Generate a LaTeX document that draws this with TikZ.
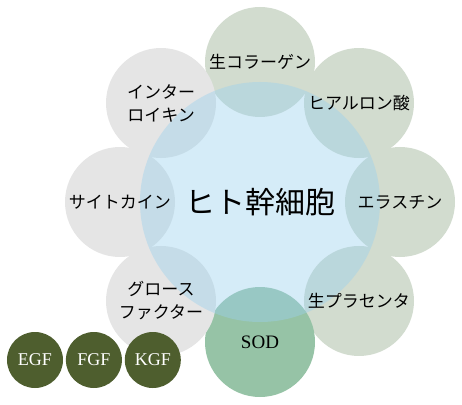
\documentclass[tikz,border=0pt]{standalone}
\usepackage{fontspec}
\setmainfont{Liberation Serif}
\newfontfamily\jp{Noto Sans CJK JP}
\usepackage{xcolor}
\usepackage{tikz}
\usetikzlibrary{positioning}

\definecolor{petalgrey}{HTML}{E5E5E5}
\definecolor{petalsage}{HTML}{D2DCCF}
\definecolor{sodgreen}{HTML}{96C3A6}
\definecolor{coreblue}{RGB}{155,209,238}
\definecolor{olive}{HTML}{4E5E2E}

\pgfdeclarelayer{back}
\pgfdeclarelayer{mid}
\pgfsetlayers{back,mid,main}

\begin{document}
\begin{tikzpicture}[
    x = 1pt, y = 1pt,
    core/.style = {circle, fill=coreblue, fill opacity=0.42, text opacity=1,
        minimum size=240pt, inner sep=0pt, font=\jp\fontsize{30}{36}\selectfont},
    petal/.style = {circle, minimum size=110pt, inner sep=0pt, align=center,
        font=\jp\fontsize{17}{23}\selectfont},
    factor/.style = {circle, fill=olive, minimum size=56pt, inner sep=0pt,
        text=white, font=\fontsize{18}{22}\selectfont}
]
\useasboundingbox (-260,-202) rectangle (202,202);

% centre
\begin{pgfonlayer}{mid}
\node[core] (core) at (0,0) {ヒト幹細胞};
\end{pgfonlayer}

% petals
\node[petal] (col) at (90:140) {生コラーゲン};
\node[petal] (hya) at (45:140) {ヒアルロン酸};
\node[petal] (ela) at (0:140) {エラスチン};
\node[petal] (pla) at (-45:140) {生プラセンタ};
\node[petal, font=\fontsize{19}{22}\selectfont] (sod) at (-90:140) {SOD};
\node[petal] (gro) at (-135:140) {グロース\\ファクター};
\node[petal] (cyt) at (180:140) {サイトカイン};
\node[petal] (inl) at (135:140) {インター\\ロイキン};

\begin{pgfonlayer}{back}
\fill[petalsage] (col.center) circle (55);
\fill[petalsage] (hya.center) circle (55);
\fill[petalsage] (ela.center) circle (55);
\fill[petalsage] (pla.center) circle (55);
\fill[sodgreen] (sod.center) circle (55);
\fill[petalgrey] (gro.center) circle (55);
\fill[petalgrey] (cyt.center) circle (55);
\fill[petalgrey] (inl.center) circle (55);
\end{pgfonlayer}

% growth factors
\node[factor] (egf) at (-225,-158) {EGF};
\node[factor, right=2.5pt of egf] (fgf) {FGF};
\node[factor, right=2.5pt of fgf] (kgf) {KGF};

\end{tikzpicture}
\end{document}
